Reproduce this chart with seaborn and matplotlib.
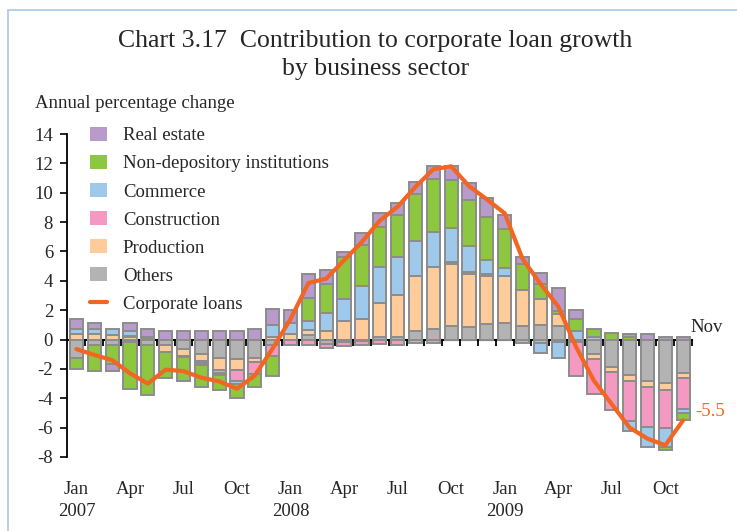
import numpy as np
import matplotlib
matplotlib.use("Agg")
import matplotlib.pyplot as plt
import seaborn as sns
from matplotlib.patches import Patch
from matplotlib.lines import Line2D

# ---------------- data ----------------
months = ["Jan 2007", "Feb 2007", "Mar 2007", "Apr 2007", "May 2007", "Jun 2007",
          "Jul 2007", "Aug 2007", "Sep 2007", "Oct 2007", "Nov 2007", "Dec 2007",
          "Jan 2008", "Feb 2008", "Mar 2008", "Apr 2008", "May 2008", "Jun 2008",
          "Jul 2008", "Aug 2008", "Sep 2008", "Oct 2008", "Nov 2008", "Dec 2008",
          "Jan 2009", "Feb 2009", "Mar 2009", "Apr 2009", "May 2009", "Jun 2009",
          "Jul 2009", "Aug 2009", "Sep 2009", "Oct 2009", "Nov 2009"]

others = [-1.25, -0.35, -0.35, -0.20, -0.35, -0.40, -0.65, -1.00, -1.25, -1.30, -1.25, -0.35,
          0.00, 0.30, -0.30, -0.15, -0.10, 0.15, 0.20, 0.60, 0.70, 0.90, 0.85, 1.05,
          1.10, 0.90, 1.00, 0.95, 0.00, -1.00, -1.85, -2.40, -2.85, -2.95, -2.25]
production = [0.40, 0.35, 0.30, 0.15, 0.10, -0.45, -0.50, -0.45, -0.85, -0.75, -0.30, 0.20,
              0.40, 0.35, 0.55, 1.25, 1.40, 2.35, 2.85, 3.70, 4.25, 4.25, 3.60, 3.25,
              3.20, 2.45, 1.75, 0.80, -0.20, -0.30, -0.35, -0.40, -0.35, -0.50, -0.40]
construction = [0.00, 0.00, 0.00, 0.10, 0.10, 0.00, 0.00, -0.15, -0.20, -0.75, -0.80, -0.80,
                -0.35, -0.35, -0.30, -0.30, -0.30, -0.30, -0.35, -0.25, -0.25, 0.15, 0.15, 0.15,
                0.00, -0.25, -0.25, -0.20, -2.25, -2.40, -2.60, -2.75, -2.75, -2.55, -2.05]
commerce = [0.35, 0.35, 0.40, 0.30, 0.00, 0.00, -0.05, -0.15, -0.10, -0.20, 0.00, 0.80,
            0.73, 0.60, 1.25, 1.50, 2.25, 2.45, 2.55, 2.40, 2.35, 2.30, 1.80, 1.00,
            0.60, 0.00, -0.65, -1.05, 0.60, 0.15, 0.00, -0.65, -1.35, -1.35, -0.30]
non_depository = [-0.75, -1.80, -1.35, -3.15, -3.40, -1.75, -1.60, -1.45, -1.05, -0.95, -0.85, -1.35,
                  0.00, 1.55, 1.95, 2.90, 2.80, 2.75, 2.85, 3.20, 3.65, 3.30, 3.10, 2.90,
                  2.60, 1.80, 1.05, 0.20, 0.80, 0.55, 0.45, 0.20, 0.00, -0.15, -0.50]
real_estate = [0.65, 0.45, -0.45, 0.60, 0.50, 0.60, 0.60, 0.55, 0.60, 0.60, 0.70, 1.05,
               0.90, 1.65, 1.00, 0.30, 0.80, 0.90, 0.85, 0.80, 0.85, 0.95, 1.15, 1.30,
               1.00, 0.45, 0.70, 1.55, 0.60, 0.00, 0.00, 0.20, 0.35, 0.15, 0.15]
corporate_loans = [-0.65, -1.05, -1.40, -2.30, -3.00, -2.05, -2.15, -2.60, -2.85, -3.35, -2.45, -0.60,
                   1.40, 3.85, 4.15, 5.40, 6.65, 8.10, 9.05, 10.40, 11.60, 11.80, 10.45, 9.55,
                   8.60, 5.50, 3.80, 2.25, -0.50, -2.80, -4.40, -6.00, -6.75, -7.20, -5.50]

series_labels = ["Others", "Production", "Construction", "Commerce",
                 "Non-depository institutions", "Real estate"]
tick_pos = list(range(0, 35, 3))
tick_labels = ["Jan\n2007", "Apr", "Jul", "Oct", "Jan\n2008", "Apr", "Jul", "Oct",
               "Jan\n2009", "Apr", "Jul", "Oct"]
y_ticks = list(range(-8, 15, 2))

# ---------------- style ----------------
colors = {"Others": "#b3b3b3", "Production": "#fecb9a", "Construction": "#f49ac2",
          "Commerce": "#9fc9ea", "Non-depository institutions": "#8dc63f",
          "Real estate": "#b89bca"}
line_color = "#f26522"
edge_color = "#8c8c8c"

sns.set_theme(style="ticks")
plt.rcParams["font.family"] = ["Liberation Serif", "DejaVu Serif"]
plt.rcParams["axes.unicode_minus"] = False

fig = plt.figure(figsize=(7.37, 5.31), dpi=100)
ax = fig.add_axes([0.0909, 0.1394, 0.9390 - 0.0909, 0.7476 - 0.1394])

x = np.arange(len(months))
series = [others, production, construction, commerce, non_depository, real_estate]
pos_base = np.zeros(len(x))
neg_base = np.zeros(len(x))
for vals, lab in zip(series, series_labels):
    v = np.asarray(vals, dtype=float)
    base = np.where(v >= 0, pos_base, neg_base)
    m = v != 0
    ax.bar(x[m], v[m], bottom=base[m], width=0.74, color=colors[lab],
           edgecolor=edge_color, linewidth=1.4, zorder=2)
    pos_base += np.where(v > 0, v, 0)
    neg_base += np.where(v < 0, v, 0)

sns.lineplot(x=x, y=corporate_loans, ax=ax, color=line_color, linewidth=3,
             zorder=5, legend=False)

ax.set_xlim(-0.53, 34.5)
ax.set_ylim(-8, 14)
ax.set_yticks(y_ticks)
ax.set_xticks(tick_pos)
ax.set_xticklabels(tick_labels, fontsize=13.5)
for t in ax.get_xticklabels():
    t.set_linespacing(1.45)
ax.tick_params(axis="x", length=0, pad=17)
ax.tick_params(axis="y", length=5, width=1.2, labelsize=13.5, pad=5, color="black",
               direction="out")
for s in ["top", "right", "bottom"]:
    ax.spines[s].set_visible(False)
ax.spines["left"].set_color("black")
ax.spines["left"].set_linewidth(1.3)
ax.set_xlabel("")
ax.set_ylabel("")

# zero line with month tick marks
sec = ax.secondary_xaxis(8 / 22)
sec.set_xticks(np.arange(0, 35) + 0.5)
sec.set_xticklabels([])
sec.tick_params(axis="x", length=4, width=1.3, direction="out", color="black")
sec.spines["bottom"].set_color("black")
sec.spines["bottom"].set_linewidth(1.5)

# legend
handles = [Patch(facecolor=colors[l], edgecolor="none") for l in series_labels[::-1]]
handles.append(Line2D([0], [0], color=line_color, lw=3))
labels = series_labels[::-1] + ["Corporate loans"]
ax.legend(handles, labels, loc="upper left", bbox_to_anchor=(0.025, 1.045),
          frameon=False, fontsize=13.5, handlelength=0.9, handleheight=0.75,
          handletextpad=0.85, labelspacing=0.57, borderaxespad=0)

# annotations
ax.text(34.4, 0.25, "Nov", fontsize=13.5, ha="left", va="bottom", clip_on=False)
ax.text(34.7, -4.9, "-5.5", fontsize=13.5, ha="left", va="center",
        color=line_color, clip_on=False)

fig.text(0.509, 0.896, "Chart 3.17  Contribution to corporate loan growth\nby business sector",
         fontsize=18.5, ha="center", va="center", linespacing=1.36)
fig.text(35 / 737, 1 - 104 / 531, "Annual percentage change", fontsize=13.5,
         ha="left", va="center")

# frame
border = "#a9c8e8"
fig.add_artist(Line2D([0.0109, 0.0109], [0, 0.981], transform=fig.transFigure,
                      color=border, lw=1.2))
fig.add_artist(Line2D([0.0109, 1.0], [0.981, 0.981], transform=fig.transFigure,
                      color=border, lw=1.2))

fig.savefig("out.png", dpi=100)
